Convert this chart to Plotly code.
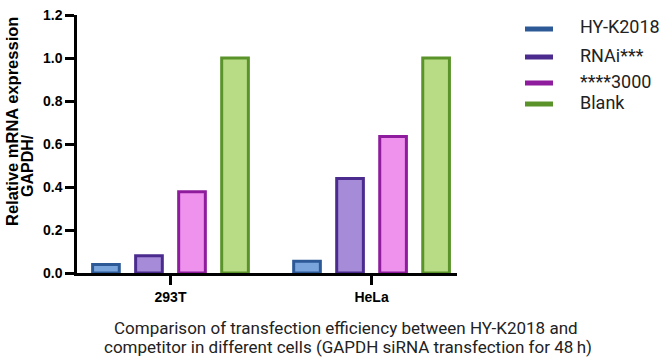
import plotly.graph_objects as go

cells = ["293T", "HeLa"]
series_names = ["HY-K2018", "RNAi***", "****3000", "Blank"]
values = {
    "HY-K2018": [0.04, 0.055],
    "RNAi***": [0.08, 0.44],
    "****3000": [0.378, 0.635],
    "Blank": [1.0, 1.0],
}
fill_colors = ["#7aa4dc", "#a68bd9", "#ee92ee", "#b8dc86"]
edge_colors = ["#2d5a97", "#4b2b8d", "#8e1c9c", "#5a932a"]
y_ticks = [0.0, 0.2, 0.4, 0.6, 0.8, 1.0, 1.2]
caption_lines = [
    "Comparison of transfection efficiency between HY-K2018 and",
    "competitor in different cells (GAPDH siRNA transfection for 48\u2009h)",
]

# plot area in pixels
L, R, T, B = 77, 457, 15, 273
W, H = R - L, B - T


def px(x):
    return (x - L) / W


def py(y):
    return (B - y) / H


fig = go.Figure()
for i, name in enumerate(series_names):
    fig.add_trace(go.Bar(
        x=cells, y=values[name], name=name, showlegend=False,
        marker=dict(color=fill_colors[i], line=dict(color=edge_colors[i], width=3)),
    ))

annotations = [
    dict(text="<b>Relative mRNA expression</b>", xref="paper", yref="paper",
         x=px(12), y=py(122), textangle=-90, showarrow=False,
         xanchor="center", yanchor="middle",
         font=dict(family="Liberation Sans", size=16.5, color="black")),
    dict(text="<b>GAPDH/</b>", xref="paper", yref="paper",
         x=px(28), y=py(165), textangle=-90, showarrow=False,
         xanchor="center", yanchor="middle",
         font=dict(family="Liberation Sans", size=16, color="black")),
]
for k, line in enumerate(caption_lines):
    annotations.append(dict(
        text=line, xref="paper", yref="paper", x=px(346 + 2 * k),
        y=py(328 + 19 * k), showarrow=False,
        xanchor="center", yanchor="middle",
        font=dict(family="Roboto", size=17, color="#222222")))

# legend (drawn as key lines + labels)
legend_y = [29, 57, 83, 104]
shapes = []
for i, name in enumerate(series_names):
    shapes.append(dict(type="line", xref="paper", yref="paper",
                       x0=px(525), x1=px(553), y0=py(legend_y[i]), y1=py(legend_y[i]),
                       line=dict(color=edge_colors[i], width=5)))
    annotations.append(dict(text=name, xref="paper", yref="paper",
                            x=px(578), y=py(legend_y[i] - 2), showarrow=False,
                            xanchor="left", yanchor="middle",
                            font=dict(family="Roboto", size=18, color="#222222")))

fig.update_layout(
    width=667, height=360,
    margin=dict(l=L, r=667 - R, t=T, b=360 - B),
    paper_bgcolor="white", plot_bgcolor="white",
    barmode="group", bargap=0.144, bargroupgap=0.38,
    showlegend=False,
    xaxis=dict(
        range=[-0.465, 1.425], showline=True, linecolor="black", linewidth=2.5,
        ticks="outside", ticklen=9, tickwidth=2.5, tickcolor="black",
        tickfont=dict(family="Liberation Sans", size=14, color="black", weight="bold"),
        showgrid=False, zeroline=False, automargin=False,
    ),
    yaxis=dict(
        range=[0, 1.2], tickvals=y_ticks, ticktext=[f"{v:.1f}" for v in y_ticks],
        showline=True, linecolor="black", linewidth=2.5,
        ticks="outside", ticklen=9, tickwidth=2.5, tickcolor="black",
        tickfont=dict(family="Liberation Sans", size=14, color="black", weight="bold"),
        showgrid=False, zeroline=False, automargin=False,
    ),
    annotations=annotations,
    shapes=shapes,
)

fig.write_html("out.html", config={"displayModeBar": False},
               post_script="document.body.style.margin='0';")
